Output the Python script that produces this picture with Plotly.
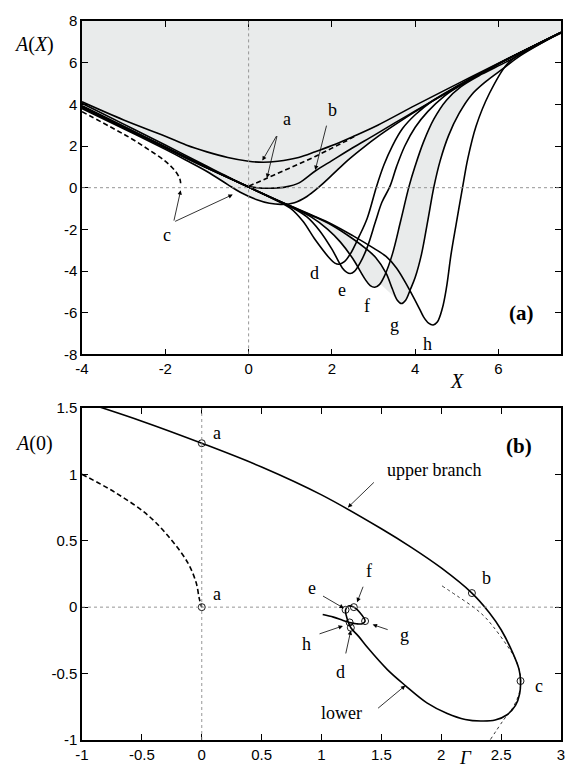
import plotly.graph_objects as go

# ---------------- panel (a): A(X) ----------------
A_X = [-4, -3, -2, -1.5, -1, -0.5, 0, 0.35, 0.7, 1.2, 1.6, 2.0, 2.5, 3.1, 4.0, 5.0, 6.0, 7.5]
A_Y = [4.12, 3.25, 2.47, 2.05, 1.72, 1.45, 1.27, 1.22, 1.27, 1.45, 1.72, 2.02, 2.45, 3.0, 3.95, 4.97, 5.98, 7.46]

ADASH_X = [0, 0.4, 0.8, 1.2, 1.6, 2.0, 2.3, 2.6]
ADASH_Y = [0.07, 0.42, 0.78, 1.13, 1.5, 1.9, 2.2, 2.52]

B_X = [-4, -3, -2, -1, -0.5, 0, 0.3, 0.6, 0.9, 1.2, 1.6, 2.0, 2.5, 3.0, 3.5, 4.0, 4.5, 5.0, 6.0, 7.5]
B_Y = [4.05, 3.05, 2.05, 1.03, 0.53, 0.07, -0.02, -0.02, 0.04, 0.22, 0.8, 1.3, 1.92, 2.5, 3.1, 3.68, 4.27, 4.85, 5.95, 7.45]

C_X = [-4, -3, -2, -1.5, -1, -0.5, -0.2, 0.2, 0.5, 0.8, 1.1, 1.4, 1.7, 2.0, 2.4, 2.8, 3.1, 3.5, 4.0, 4.5, 5.0, 6.0, 7.5]
C_Y = [3.8, 2.83, 1.84, 1.32, 0.78, 0.15, -0.22, -0.58, -0.75, -0.8, -0.72, -0.42, 0.05, 0.6, 1.35, 2.0, 2.45, 3.0, 3.65, 4.25, 4.82, 5.94, 7.45]

CDASH_X = [-4, -3.2, -2.8, -2.41, -2.01, -1.77, -1.65, -1.63]
CDASH_Y = [3.65, 2.79, 2.34, 1.84, 1.29, 0.82, 0.42, 0.12]

D_X = [-4, -3, -2, -1, 0, 0.5, 1.0, 1.3, 1.6, 1.95, 2.07, 2.18, 2.3, 2.45, 2.65, 2.85, 3.07, 3.25, 3.45, 3.7, 4.0, 4.4, 5.0, 6.0, 7.5]
D_Y = [3.93, 2.95, 1.96, 0.98, 0.03, -0.45, -0.98, -1.6, -2.5, -3.4, -3.62, -3.67, -3.55, -3.15, -2.35, -1.45, 0.05, 1.1, 2.0, 2.85, 3.5, 4.15, 4.87, 5.95, 7.45]

E_X = [-4, -3, -2, -1, 0, 0.5, 1.0, 1.4, 1.7, 2.0, 2.25, 2.35, 2.44, 2.54, 2.68, 2.85, 3.05, 3.2, 3.39, 3.55, 3.75, 4.0, 4.3, 4.7, 5.2, 6.0, 7.5]
E_Y = [3.91, 2.93, 1.95, 0.97, 0.03, -0.44, -0.9, -1.4, -2.05, -2.95, -3.85, -4.05, -4.12, -4.02, -3.6, -2.85, -1.6, -0.7, 0.05, 1.0, 2.0, 2.9, 3.65, 4.4, 5.05, 5.95, 7.45]

F_X = [-4, -3, -2, -1, 0, 0.5, 1.0, 1.5, 1.9, 2.2, 2.5, 2.8, 2.92, 3.03, 3.14, 3.27, 3.45, 3.65, 3.85, 4.0, 4.2, 4.45, 4.75, 5.1, 5.6, 6.2, 7.5]
F_Y = [3.89, 2.91, 1.93, 0.96, 0.03, -0.44, -0.9, -1.4, -2.0, -2.6, -3.4, -4.4, -4.7, -4.78, -4.65, -4.2, -3.2, -1.6, 0.05, 1.05, 2.2, 3.3, 4.2, 4.85, 5.45, 6.05, 7.45]

G_X = [-4, -3, -2, -1, 0, 0.5, 1.0, 1.5, 2.0, 2.5, 2.8, 3.05, 3.3, 3.45, 3.57, 3.67, 3.77, 3.88, 4.0, 4.15, 4.3, 4.45, 4.6, 4.8, 5.05, 5.35, 5.7, 6.1, 6.5, 7.5]
G_Y = [3.87, 2.89, 1.92, 0.95, 0.03, -0.43, -0.88, -1.32, -1.8, -2.45, -2.9, -3.35, -4.1, -4.85, -5.4, -5.56, -5.4, -4.9, -4.3, -3.2, -1.6, 0.05, 1.3, 2.5, 3.55, 4.45, 5.1, 5.7, 6.3, 7.45]

H_X = [-4, -3, -2, -1, 0, 0.5, 1.0, 1.5, 2.0, 2.5, 3.0, 3.3, 3.55, 3.83, 4.1, 4.2, 4.32, 4.43, 4.53, 4.65, 4.75, 4.86, 4.98, 5.14, 5.26, 5.46, 5.78, 6.21, 6.6, 7.5]
H_Y = [3.85, 2.87, 1.9, 0.94, 0.03, -0.42, -0.87, -1.3, -1.75, -2.3, -2.9, -3.3, -3.85, -4.78, -5.8, -6.2, -6.5, -6.59, -6.45, -5.8, -4.8, -3.2, -1.78, 0.05, 1.37, 2.95, 4.52, 5.94, 6.5, 7.42]

A_RANGE_X = [-4, 7.5]
A_RANGE_Y = [-8, 8]
A_XTICKS = [-4, -2, 0, 2, 4, 6]
A_XTICKTEXT = ["-4", "-2", "0", "2", "4", "6"]
A_YTICKS = [-8, -6, -4, -2, 0, 2, 4, 6, 8]
A_YTICKTEXT = ["-8", "-6", "-4", "-2", "0", "2", "4", "6", "8"]

# ---------------- panel (b): A(0) vs Gamma ----------------
BR_G = [-1.0, -0.5, 0, 0.5, 1.0, 1.5, 1.75, 2.0, 2.256, 2.4, 2.5, 2.6, 2.65, 2.662, 2.655, 2.62,
        2.55, 2.45, 2.33, 2.2, 2.05, 1.88, 1.7, 1.55, 1.39, 1.31, 1.245, 1.215, 1.201, 1.225, 1.27,
        1.32, 1.364, 1.34, 1.29, 1.235, 1.18, 1.10, 1.01]
BR_A = [1.55, 1.40, 1.234, 1.055, 0.845, 0.59, 0.45, 0.295, 0.106, -0.04, -0.17, -0.35, -0.47, -0.556,
        -0.65, -0.74, -0.81, -0.85, -0.857, -0.845, -0.8, -0.72, -0.59, -0.47, -0.31, -0.22, -0.155,
        -0.09, -0.02, 0.008, 0.0, -0.04, -0.105, -0.125, -0.125, -0.115, -0.1, -0.075, -0.055]

BDASH_G = [-1, -0.724, -0.448, -0.254, -0.116, -0.047, -0.02, 0]
BDASH_A = [1.0, 0.864, 0.691, 0.506, 0.333, 0.185, 0.062, 0.0]

BDOT_G = [2.007, 2.14, 2.269, 2.36, 2.435, 2.546, 2.615, 2.65, 2.665, 2.65, 2.60, 2.518, 2.408]
BDOT_A = [0.16, 0.08, 0.0, -0.07, -0.148, -0.284, -0.383, -0.47, -0.56, -0.65, -0.753, -0.852, -1.0]

MARK_G = [0, 0, 2.256, 2.662, 1.245, 1.201, 1.27, 1.364, 1.235]
MARK_A = [1.234, 0, 0.106, -0.556, -0.155, -0.02, 0.0, -0.105, -0.115]

B_RANGE_X = [-1, 3]
B_RANGE_Y = [-1, 1.5]
B_XTICKS = [-1, -0.5, 0, 0.5, 1, 1.5, 2, 2.5, 3]
B_XTICKTEXT = ["-1", "-0.5", "0", "0.5", "1", "1.5", "2", "2.5", "3"]
B_YTICKS = [-1, -0.5, 0, 0.5, 1, 1.5]
B_YTICKTEXT = ["-1", "-0.5", "0", "0.5", "1", "1.5"]

# ---------------- styles ----------------
SHADE = "rgb(233,235,235)"
LW = 1.6
SERIF = "Liberation Serif"
SANS = "Liberation Sans"

fig = go.Figure()


def curve(x, y, xa="x", ya="y", dash="solid", width=LW, color="black"):
    fig.add_trace(go.Scatter(x=x, y=y, xaxis=xa, yaxis=ya, mode="lines",
                             line=dict(color=color, width=width, dash=dash, shape="spline", smoothing=1.0),
                             hoverinfo="skip", showlegend=False))


# shaded region above curve c
fig.add_trace(go.Scatter(x=A_RANGE_X, y=[A_RANGE_Y[1], A_RANGE_Y[1]], mode="lines",
                         line=dict(width=0), hoverinfo="skip", showlegend=False))
fig.add_trace(go.Scatter(x=C_X, y=C_Y, mode="lines", fill="tonexty", fillcolor=SHADE,
                         line=dict(width=0, shape="spline", smoothing=1.0), hoverinfo="skip", showlegend=False))

# shaded region between curves f and g
fi = [i for i, x in enumerate(F_X) if 1.0 <= x <= 6.2]
gi = [i for i, x in enumerate(G_X) if 1.0 <= x <= 6.5]
poly_x = [F_X[i] for i in fi] + [G_X[i] for i in reversed(gi)]
poly_y = [F_Y[i] for i in fi] + [G_Y[i] for i in reversed(gi)]
fig.add_trace(go.Scatter(x=poly_x, y=poly_y, mode="lines", fill="toself", fillcolor=SHADE,
                         line=dict(width=0, shape="spline", smoothing=1.0), hoverinfo="skip", showlegend=False))
# wedge under the minimum of f, down to the minimum of g
fw = [i for i, x in enumerate(F_X) if 2.5 <= x <= 3.27]
gw = [i for i, x in enumerate(G_X) if 3.3 <= x <= 3.67]
fig.add_trace(go.Scatter(x=[F_X[i] for i in fw] + [G_X[i] for i in gw],
                         y=[F_Y[i] for i in fw] + [G_Y[i] for i in gw],
                         mode="lines", fill="toself", fillcolor=SHADE,
                         line=dict(width=0, shape="spline", smoothing=1.0), hoverinfo="skip", showlegend=False))

# curves of panel (a)
for cx, cy in [(B_X, B_Y), (C_X, C_Y), (D_X, D_Y), (E_X, E_Y), (F_X, F_Y), (G_X, G_Y), (H_X, H_Y), (A_X, A_Y)]:
    curve(cx, cy)
curve(ADASH_X, ADASH_Y, dash="5px,3px")
curve(CDASH_X, CDASH_Y, dash="5px,3px")

# curves of panel (b)
curve(BDOT_G, BDOT_A, "x2", "y2", dash="dot", width=1.0, color="#333333")
curve(BDASH_G, BDASH_A, "x2", "y2", dash="5px,3px")
curve(BR_G, BR_A, "x2", "y2")
fig.add_trace(go.Scatter(x=MARK_G, y=MARK_A, xaxis="x2", yaxis="y2", mode="markers",
                         marker=dict(symbol="circle-open", size=7, color="black", line=dict(width=0.9)),
                         hoverinfo="skip", showlegend=False))

# zero reference lines (dotted)
ZL = dict(color="#8a8a8a", width=0.9, dash="dot")
shapes = [
    dict(type="line", xref="x", yref="y", x0=0, x1=0, y0=A_RANGE_Y[0], y1=A_RANGE_Y[1], line=ZL, layer="above"),
    dict(type="line", xref="x", yref="y", x0=A_RANGE_X[0], x1=A_RANGE_X[1], y0=0, y1=0, line=ZL, layer="above"),
    dict(type="line", xref="x2", yref="y2", x0=0, x1=0, y0=B_RANGE_Y[0], y1=B_RANGE_Y[1], line=ZL, layer="above"),
    dict(type="line", xref="x2", yref="y2", x0=B_RANGE_X[0], x1=B_RANGE_X[1], y0=0, y1=0, line=ZL, layer="above"),
]

ann = []
LBL = dict(family=SERIF, size=18, color="black")


def label(txt, x, y, xr="x", yr="y", font=LBL):
    ann.append(dict(text=txt, x=x, y=y, xref=xr, yref=yr, showarrow=False, font=font,
                    xanchor="center", yanchor="middle"))


def arrow(x0, y0, x1, y1, xr="x", yr="y"):
    ann.append(dict(text="", x=x1, y=y1, ax=x0, ay=y0, xref=xr, yref=yr, axref=xr, ayref=yr,
                    showarrow=True, arrowhead=2, arrowsize=1.1, arrowwidth=0.8, arrowcolor="black",
                    standoff=0, startstandoff=0))


# panel (a) labels
label("a", 0.93, 3.3)
arrow(0.69, 2.55, 0.33, 1.3)
arrow(0.69, 2.55, 0.44, 0.46)
label("b", 2.02, 3.75)
arrow(1.88, 3.05, 1.6, 0.85)
label("c", -1.96, -2.27)
arrow(-1.8, -1.65, -1.63, -0.12)
arrow(-1.8, -1.65, -0.38, -0.33)
label("d", 1.58, -4.07)
label("e", 2.24, -4.93)
label("f", 2.84, -5.67)
label("g", 3.5, -6.6)
label("h", 4.3, -7.48)
label("<b>(a)</b>", 6.55, -6.0, font=dict(family=SERIF, size=21, color="black"))

# panel (b) labels
label("a", 0.13, 1.31, "x2", "y2")
label("a", 0.13, 0.1, "x2", "y2")
label("b", 2.38, 0.22, "x2", "y2")
label("c", 2.82, -0.59, "x2", "y2")
label("upper branch", 1.94, 1.03, "x2", "y2")
arrow(1.45, 0.95, 1.22, 0.75, "x2", "y2")
label("lower", 1.17, -0.80, "x2", "y2")
arrow(1.46, -0.77, 1.70, -0.59, "x2", "y2")
label("e", 0.92, 0.145, "x2", "y2")
arrow(1.0, 0.09, 1.187, -0.008, "x2", "y2")
label("f", 1.40, 0.27, "x2", "y2")
arrow(1.352, 0.165, 1.297, 0.037, "x2", "y2")
label("g", 1.69, -0.21, "x2", "y2")
arrow(1.565, -0.173, 1.427, -0.131, "x2", "y2")
label("h", 0.875, -0.275, "x2", "y2")
arrow(0.971, -0.205, 1.179, -0.141, "x2", "y2")
label("d", 1.16, -0.49, "x2", "y2")
arrow(1.20, -0.36, 1.245, -0.175, "x2", "y2")
label("<b>(b)</b>", 2.65, 1.21, "x2", "y2", font=dict(family=SERIF, size=21, color="black"))

# axis titles
TITLE = dict(family=SERIF, size=20, color="black")
ann.append(dict(text="<i>A</i>(<i>X</i>)", x=-0.1, y=0.968, xref="paper", yref="paper",
                showarrow=False, font=TITLE, xanchor="center", yanchor="middle"))
ann.append(dict(text="<i>X</i>", x=5.0, y=0.5, xref="x", yref="paper",
                showarrow=False, font=TITLE, xanchor="center", yanchor="middle"))
ann.append(dict(text="<i>A</i>(0)", x=-0.1, y=0.4123, xref="paper", yref="paper",
                showarrow=False, font=TITLE, xanchor="center", yanchor="middle"))
ann.append(dict(text="<i>Γ</i>", x=2.2, y=-0.024, xref="x2", yref="paper",
                showarrow=False, font=dict(family=SERIF, size=19, color="black"),
                xanchor="center", yanchor="middle"))

AX = dict(showline=True, linecolor="black", linewidth=1.5, mirror="allticks", ticks="inside",
          ticklen=6, tickwidth=1.2, tickcolor="black", showgrid=False, zeroline=False,
          tickfont=dict(family=SANS, size=15, color="black"), fixedrange=True)

fig.update_layout(
    width=577, height=775,
    margin=dict(l=82, r=13, t=13, b=32),
    paper_bgcolor="white", plot_bgcolor="white",
    showlegend=False,
    xaxis=dict(AX, domain=[0, 1], range=A_RANGE_X, anchor="y", tickvals=A_XTICKS, ticktext=A_XTICKTEXT),
    yaxis=dict(AX, domain=[0.5363, 1], range=A_RANGE_Y, anchor="x", tickvals=A_YTICKS, ticktext=A_YTICKTEXT),
    xaxis2=dict(AX, domain=[0, 1], range=B_RANGE_X, anchor="y2", tickvals=B_XTICKS, ticktext=B_XTICKTEXT),
    yaxis2=dict(AX, domain=[0, 0.4619], range=B_RANGE_Y, anchor="x2", tickvals=B_YTICKS, ticktext=B_YTICKTEXT),
    shapes=shapes,
    annotations=ann,
)

fig.write_html("out.html", config={"displayModeBar": False},
               post_script="document.body.style.margin='0px';document.body.style.overflow='hidden';")
